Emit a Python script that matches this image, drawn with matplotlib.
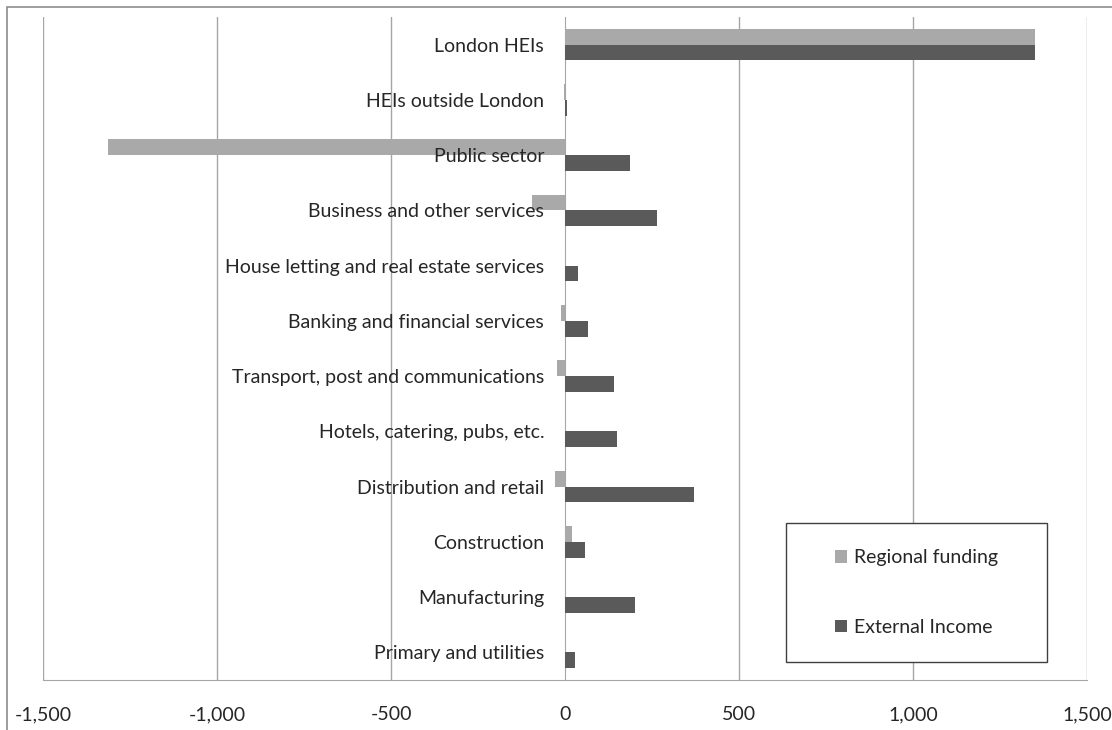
import matplotlib
matplotlib.use("Agg")
import matplotlib.pyplot as plt
from matplotlib.patches import Rectangle, Patch
from matplotlib.ticker import FuncFormatter
import numpy as np

categories = ["London HEIs", "HEIs outside London", "Public sector",
              "Business and other services", "House letting and real estate services",
              "Banking and financial services", "Transport, post and communications",
              "Hotels, catering, pubs, etc.", "Distribution and retail",
              "Construction", "Manufacturing", "Primary and utilities"]
regional_funding = [1350, -3, -1313, -96, 2, -12, -23, 2, -28, 19, 0, 2]
external_income = [1350, 5, 187, 263, 38, 67, 140, 150, 371, 58, 200, 30]
xticks = [-1500, -1000, -500, 0, 500, 1000, 1500]

light = "#A9A9A9"
dark = "#5A5A5A"
grid = "#A6A6A6"
txt = "#262626"

plt.rcParams['font.family'] = ['Lato', 'DejaVu Sans']

W, H = 1112, 730
fig = plt.figure(figsize=(W / 100, H / 100), dpi=100)
ax = fig.add_axes([43 / W, 1 - 680 / H, (1087 - 43) / W, (680 - 17) / H])

y = np.arange(len(categories))
h = 0.284
ax.barh(y - h / 2, regional_funding, height=h, color=light, zorder=3, label="Regional funding")
ax.barh(y + h / 2, external_income, height=h, color=dark, zorder=3, label="External Income")

ax.set_ylim(len(categories) - 0.5, -0.5)
ax.set_xlim(-1500, 1500)
ax.set_xticks(xticks)
ax.xaxis.set_major_formatter(FuncFormatter(lambda v, p: f"{int(v):,}"))
ax.tick_params(axis='x', length=0, pad=19, labelsize=14, labelcolor=txt)

ax.set_yticks(y)
ax.set_yticklabels(categories)
ax.spines['left'].set_position(('data', 0))
ax.spines['left'].set_color(grid)
ax.spines['left'].set_zorder(2)
ax.tick_params(axis='y', length=0, pad=15, labelsize=14, labelcolor=txt)
ax.yaxis.set_zorder(10)

ax.spines['top'].set_visible(False)
ax.spines['right'].set_visible(False)
ax.spines['bottom'].set_color(grid)

for xv in xticks:
    if xv != 0:
        ax.axvline(xv, color=grid, lw=1, zorder=1)

# legend box
bx0, bx1, by0, by1 = 786, 1047, 523, 662
fig.patches.append(Rectangle((bx0 / W, 1 - by1 / H), (bx1 - bx0) / W, (by1 - by0) / H,
                             transform=fig.transFigure, fill=True, facecolor='white',
                             edgecolor='#3F3F3F', lw=1.0, zorder=5))
handles = [Patch(facecolor=light, label="Regional funding"),
           Patch(facecolor=dark, label="External Income")]
leg = fig.legend(handles=handles, loc='center',
                 bbox_to_anchor=((bx0 + bx1) / 2 / W, 1 - (by0 + by1) / 2 / H),
                 frameon=False, fontsize=14, labelspacing=2.7,
                 handlelength=0.6, handleheight=0.6, handletextpad=0.35, labelcolor=txt)
leg.set_zorder(6)

# outer figure border
fig.patches.append(Rectangle((7 / W, -0.1), 1.2, 1 - 7 / H + 0.1,
                             transform=fig.transFigure, fill=False,
                             edgecolor='#8C8C8C', lw=1.2, zorder=0))

fig.savefig("out.png", dpi=100)
